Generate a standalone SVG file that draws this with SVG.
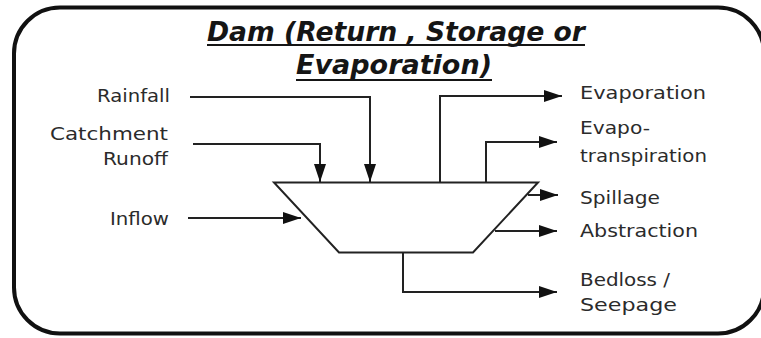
<svg xmlns="http://www.w3.org/2000/svg" width="761" height="338" viewBox="0 0 761 338">
<style>
.lbl{font-family:"DejaVu Sans","Liberation Sans",sans-serif;font-size:17px;fill:#2b2b2b;}
.ttl{font-family:"DejaVu Sans","Liberation Sans",sans-serif;font-size:26px;font-weight:bold;font-style:italic;fill:#151515;}
.ul{stroke:#151515;stroke-width:2;}
.con{fill:none;stroke:#222;stroke-width:2;}
</style>
<defs>
<marker id="arr" markerUnits="userSpaceOnUse" markerWidth="18" markerHeight="12" refX="18" refY="6" orient="auto">
<path d="M0,0 L18,6 L0,12 z" fill="#111"/>
</marker>
</defs>
<rect width="761" height="338" fill="#fff"/>
<g id="frame">
<rect x="14" y="7.5" width="750" height="326" rx="46" ry="46" fill="none" stroke="#111" stroke-width="4"/>
</g>
<g id="title">
<text class="ttl" x="207" y="41" textLength="378" lengthAdjust="spacingAndGlyphs">Dam (Return , Storage or</text>
<line class="ul" x1="207" y1="45" x2="585" y2="45"/>
<text class="ttl" x="296" y="74" textLength="196" lengthAdjust="spacingAndGlyphs">Evaporation)</text>
<line class="ul" x1="296" y1="80" x2="492" y2="80"/>
</g>
<g id="node-dam">
<polygon points="274,182.5 538,182.5 473,252.5 339,252.5" fill="#fff" stroke="#222" stroke-width="2"/>
</g>
<g id="node-rainfall"><text class="lbl" x="170" y="101.5" text-anchor="end" textLength="73" lengthAdjust="spacingAndGlyphs">Rainfall</text></g>
<g id="node-catchment">
<text class="lbl" x="168" y="140" text-anchor="end" textLength="118" lengthAdjust="spacingAndGlyphs">Catchment</text>
<text class="lbl" x="168" y="165" text-anchor="end" textLength="65" lengthAdjust="spacingAndGlyphs">Runoff</text>
</g>
<g id="node-inflow"><text class="lbl" x="110" y="225" textLength="59" lengthAdjust="spacingAndGlyphs">Inflow</text></g>
<g id="node-evaporation"><text class="lbl" x="580" y="99" textLength="126" lengthAdjust="spacingAndGlyphs">Evaporation</text></g>
<g id="node-evapotranspiration">
<text class="lbl" x="580" y="134" textLength="70" lengthAdjust="spacingAndGlyphs">Evapo-</text>
<text class="lbl" x="580" y="162" textLength="127" lengthAdjust="spacingAndGlyphs">transpiration</text>
</g>
<g id="node-spillage"><text class="lbl" x="580" y="204" textLength="80" lengthAdjust="spacingAndGlyphs">Spillage</text></g>
<g id="node-abstraction"><text class="lbl" x="580" y="237" textLength="118" lengthAdjust="spacingAndGlyphs">Abstraction</text></g>
<g id="node-bedloss">
<text class="lbl" x="580" y="286" textLength="90" lengthAdjust="spacingAndGlyphs">Bedloss /</text>
<text class="lbl" x="580" y="311" textLength="97" lengthAdjust="spacingAndGlyphs">Seepage</text>
</g>
<g id="connectors">
<path class="con" d="M190,97 H370 V182" marker-end="url(#arr)"/>
<path class="con" d="M193,144 H320 V182" marker-end="url(#arr)"/>
<path class="con" d="M188,218 H301" marker-end="url(#arr)"/>
<path class="con" d="M440,182 V96 H562" marker-end="url(#arr)"/>
<path class="con" d="M486,182 V142 H557" marker-end="url(#arr)"/>
<path class="con" d="M528,195 H558" marker-end="url(#arr)"/>
<path class="con" d="M495,231 H557" marker-end="url(#arr)"/>
<path class="con" d="M403,253 V292 H557" marker-end="url(#arr)"/>
</g>
</svg>
